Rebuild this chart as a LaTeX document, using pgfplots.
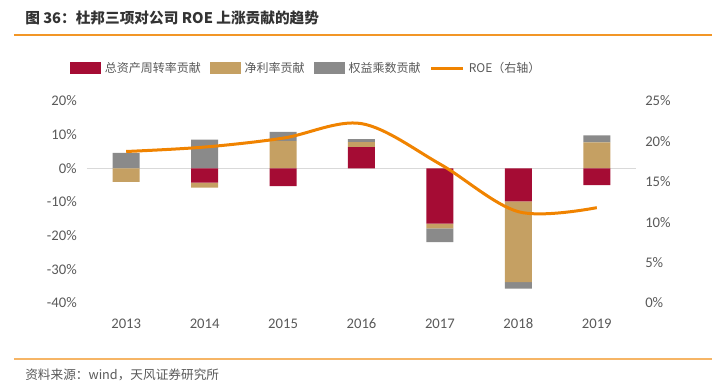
\documentclass[border=0pt]{standalone}
\usepackage{pgfplots}
\pgfplotsset{compat=1.18}
\usepackage{fontspec}
\setmainfont{Carlito}
\newfontfamily\cjk{Noto Sans CJK SC}
\definecolor{cred}{HTML}{A50C34}
\definecolor{ctan}{HTML}{C5A063}
\definecolor{cgray}{HTML}{8A8A8A}
\definecolor{corange}{HTML}{F08300}
\definecolor{ctxt}{HTML}{595959}
\begin{document}
\begin{tikzpicture}[x=0.75pt,y=0.75pt]
\begin{scope}[shift={(-87,-86)}]
\path (0,0) rectangle (726,389);
\node[anchor=west, font=\cjk\bfseries\fontsize{11}{13}\selectfont, text=black!80, inner sep=0] at (25,371) {图 36：杜邦三项对公司 ROE 上涨贡献的趋势};
\draw[corange!85, line width=1.1pt] (14,354) -- (712,354);
\draw[corange!60, line width=1.5pt] (14,29.5) -- (712,29.5);
\node[anchor=west, font=\cjk\fontsize{9.5}{11}\selectfont, text=ctxt, inner sep=0] at (25,14) {资料来源：wind，天风证券研究所};
\end{scope}
\begin{axis}[scale only axis,
  width=411.75pt, height=151.5pt,
  xmin=-0.5, xmax=6.5, ymin=-40, ymax=20,
  axis line style={draw=none}, major tick length=0pt,
  xtick={0,...,6}, xticklabels={2013,2014,2015,2016,2017,2018,2019},
  ytick={-40,-30,...,20},
  yticklabel={\pgfmathprintnumber{\tick}\%},
  /pgf/number format/assume math mode=true,
  tick label style={font=\fontsize{11}{13}\selectfont, text=ctxt},
  yticklabel style={anchor=east, inner sep=0pt, xshift=-7.5pt},
  xticklabel style={anchor=north, inner sep=0pt, yshift=-11.5pt},
  extra y ticks={0}, extra y tick labels={},
  extra y tick style={grid=major, major grid style={draw=black!15, line width=0.9pt}},
  ybar stacked, bar width=20.25pt,
  legend columns=4,
  legend style={draw=none, fill=none, at={(-0.031,1.163)}, anchor=west,
    font=\cjk\fontsize{9}{11}\selectfont, text=ctxt, inner sep=0pt,
    /tikz/every odd column/.append style={column sep=1pt},
    /tikz/every even column/.append style={column sep=5pt}},
  legend cell align=left,
]
\addplot[fill=cred, draw=none, forget plot] coordinates {(0,0)(1,-4.25)(2,-5.25)(3,6.3)(4,-16.4)(5,-9.8)(6,-5.0)};
\addplot[fill=ctan, draw=none, forget plot] coordinates {(0,-4.0)(1,-1.5)(2,8.1)(3,1.5)(4,-1.4)(5,-24.0)(6,7.7)};
\addplot[fill=cgray, draw=none, forget plot] coordinates {(0,4.6)(1,8.5)(2,2.7)(3,0.9)(4,-4.1)(5,-1.9)(6,2.1)};
\addlegendimage{legend image code/.code={\fill[cred] (0pt,-4pt) rectangle (22.5pt,4pt);}}
\addlegendentry{总资产周转率贡献}
\addlegendimage{legend image code/.code={\fill[ctan] (0pt,-4pt) rectangle (22.5pt,4pt);}}
\addlegendentry{净利率贡献}
\addlegendimage{legend image code/.code={\fill[cgray] (0pt,-4pt) rectangle (22.5pt,4pt);}}
\addlegendentry{权益乘数贡献}
\addlegendimage{legend image code/.code={\draw[corange, line width=2.25pt] (0pt,0pt) -- (24pt,0pt);}}
\addlegendentry{ROE（右轴）}
\end{axis}
\begin{axis}[scale only axis,
  width=411.75pt, height=151.5pt,
  xmin=-0.5, xmax=6.5, ymin=0, ymax=25,
  hide x axis, axis y line*=right,
  axis line style={draw=none}, major tick length=0pt,
  ytick={0,5,...,25},
  yticklabel={\pgfmathprintnumber{\tick}\%},
  /pgf/number format/assume math mode=true,
  tick label style={font=\fontsize{11}{13}\selectfont, text=ctxt},
  yticklabel style={anchor=west, inner sep=0pt, xshift=6.75pt},
]
\addplot[corange, line width=2.25pt, smooth, tension=0.55] coordinates {(0,18.75)(1,19.3)(2,20.4)(3,22.2)(4,17.2)(5,11.3)(6,11.8)};
\end{axis}
\end{tikzpicture}
\end{document}
